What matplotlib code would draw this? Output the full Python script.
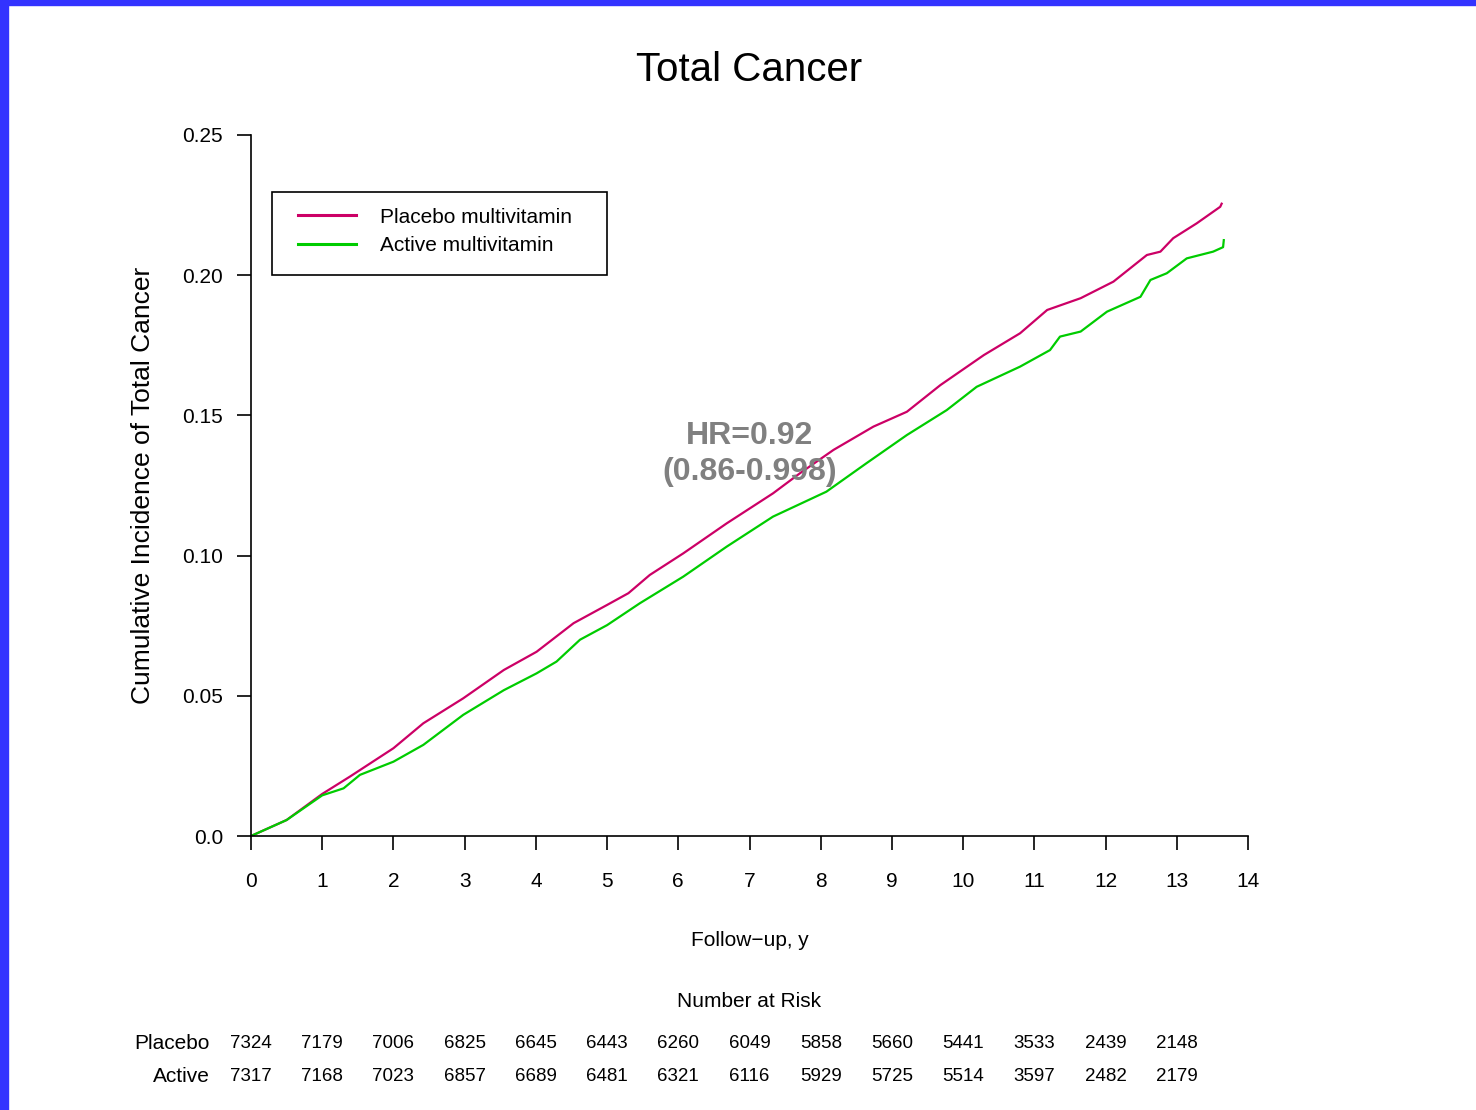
"""
Total Cancer - cumulative incidence curves with number-at-risk table
"""
import matplotlib
matplotlib.use('Agg')
import matplotlib.pyplot as plt
from matplotlib.patches import Rectangle

plt.rcParams['font.family'] = ['Liberation Sans', 'DejaVu Sans']

# curve values (years, cumulative incidence)
years_placebo = [0, 0.5, 1.0, 1.39, 2.0, 2.42, 2.98, 3.55, 4.01, 4.53, 5.0, 5.30,
                 5.60, 6.07, 6.68, 7.33, 7.71, 8.18, 8.74, 9.21, 9.68, 10.29,
                 10.80, 11.18, 11.65, 12.11, 12.58, 12.77, 12.95, 13.28, 13.61, 13.63]
inc_placebo = [0, 0.0057, 0.0150, 0.0212, 0.0313, 0.0402, 0.0491, 0.0592, 0.0657,
               0.0759, 0.0824, 0.0866, 0.0931, 0.1008, 0.1115, 0.1222, 0.1294,
               0.1377, 0.1460, 0.1513, 0.1608, 0.1715, 0.1793, 0.1876, 0.1918,
               0.1977, 0.2072, 0.2084, 0.2132, 0.2185, 0.2244, 0.2255]

years_active = [0, 0.5, 1.0, 1.3, 1.53, 2.0, 2.42, 2.98, 3.55, 4.01, 4.29, 4.62,
                5.0, 5.46, 6.07, 6.68, 7.33, 8.08, 8.64, 9.21, 9.77, 10.19, 10.80,
                11.22, 11.36, 11.65, 12.02, 12.49, 12.63, 12.86, 13.14, 13.51,
                13.65, 13.66]
inc_active = [0, 0.0057, 0.0145, 0.0170, 0.0218, 0.0265, 0.0325, 0.0432, 0.0520,
              0.0580, 0.0622, 0.0700, 0.0752, 0.0830, 0.0925, 0.1032, 0.1139,
              0.1228, 0.1329, 0.1430, 0.1519, 0.1602, 0.1674, 0.1733, 0.1781,
              0.1799, 0.1870, 0.1923, 0.1983, 0.2007, 0.2060, 0.2084, 0.2100,
              0.2125]

# number at risk table
risk_years = list(range(14))
risk_placebo = [7324, 7179, 7006, 6825, 6645, 6443, 6260, 6049, 5858, 5660,
                5441, 3533, 2439, 2148]
risk_active = [7317, 7168, 7023, 6857, 6689, 6481, 6321, 6116, 5929, 5725,
               5514, 3597, 2482, 2179]

x_ticks = list(range(15))
y_ticks = [0.0, 0.05, 0.10, 0.15, 0.20, 0.25]
y_tick_labels = ['0.0', '0.05', '0.10', '0.15', '0.20', '0.25']

col_placebo = '#CC0066'
col_active = '#00CC00'

fig = plt.figure(figsize=(14.76, 11.10), dpi=100)
ax = fig.add_axes([251 / 1476, 1 - 836 / 1110, 997 / 1476, 701 / 1110])

ax.plot(years_placebo, inc_placebo, color=col_placebo, lw=1.6,
        label='Placebo multivitamin')
ax.plot(years_active, inc_active, color=col_active, lw=1.6,
        label='Active multivitamin')

ax.set_xlim(0, 14)
ax.set_ylim(0, 0.25)
ax.set_xticks(x_ticks)
ax.set_yticks(y_ticks)
ax.set_yticklabels(y_tick_labels)
ax.tick_params(axis='both', direction='out', length=10, width=1.2,
               labelsize=15, colors='black')
ax.tick_params(axis='x', pad=16)
ax.tick_params(axis='y', pad=10)
for s in ['top', 'right']:
    ax.spines[s].set_visible(False)
for s in ['left', 'bottom']:
    ax.spines[s].set_linewidth(1.2)

ax.set_ylabel('Cumulative Incidence of Total Cancer', fontsize=19, labelpad=20)

# legend entries without frame, box drawn separately (R style padding)
leg = ax.legend(loc='upper left', bbox_to_anchor=(0.0311, 0.6, 0.316, 0.3187),
                mode='expand', fontsize=15, frameon=False,
                handlelength=2.8, handletextpad=1.15, borderpad=0.75,
                labelspacing=0.45, borderaxespad=0)
for ln in leg.get_lines():
    ln.set_linewidth(2.2)
ax.add_patch(Rectangle((0.0211, 0.8003), 0.336, 0.1184, transform=ax.transAxes,
                       fill=False, edgecolor='black', linewidth=1.2,
                       clip_on=False))

ax.text(7, 0.1362, 'HR=0.92\n(0.86-0.998)', ha='center', va='center',
        fontsize=23, fontweight='bold', color='#808080', linespacing=1.25)

fig.text(0.5078, 1 - 70 / 1110, 'Total Cancer', ha='center', va='center',
         fontsize=29)

# x label and risk table, placed under the axis
xt = ax.get_xaxis_transform()
ax.text(7, -0.1484, 'Follow\u2212up, y', transform=xt, ha='center',
        va='center', fontsize=15, clip_on=False)
ax.text(7, -0.2368, 'Number at Risk', transform=xt, ha='center',
        va='center', fontsize=15, clip_on=False)
ax.text(-0.58, -0.2967, 'Placebo', transform=xt, ha='right', va='center',
        fontsize=15, clip_on=False)
ax.text(-0.58, -0.3433, 'Active', transform=xt, ha='right', va='center',
        fontsize=15, clip_on=False)
for t, p, a in zip(risk_years, risk_placebo, risk_active):
    ax.text(t, -0.2967, str(p), transform=xt, ha='center', va='center',
            fontsize=13.5, clip_on=False)
    ax.text(t, -0.3433, str(a), transform=xt, ha='center', va='center',
            fontsize=13.5, clip_on=False)

# blue slide border on the left and top
fig.patches.append(Rectangle((0, 0), 8 / 1476, 1, transform=fig.transFigure,
                             color='#3333FF', zorder=10))
fig.patches.append(Rectangle((0, 1 - 5 / 1110), 1, 5 / 1110,
                             transform=fig.transFigure, color='#3333FF', zorder=10))

fig.savefig('out.png', dpi=100)
